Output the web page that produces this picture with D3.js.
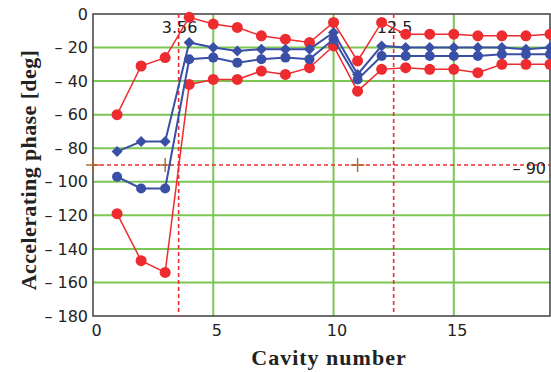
<!DOCTYPE html>
<html>
<head>
<meta charset="utf-8">
<script src="https://cdn.jsdelivr.net/npm/d3@7"></script>
<style>
  html, body { margin: 0; padding: 0; background: #fff; }
  svg { display: block; }
</style>
</head>
<body>
<svg id="chart" width="551" height="372"></svg>
<script>
// Cavity numbers along the linac section
const cavities = [1, 2, 3, 4, 5, 6, 7, 8, 9, 10, 11, 12, 13, 14, 15, 16, 17, 18, 19];

// Accelerating phase limits [deg]
const redUpper  = [-60, -31, -26, -2, -6, -8, -13, -15, -17, -5, -28, -5, -12, -12, -12, -13, -13, -13, -12];
const blueUpper = [-82, -76, -76, -17, -20, -22, -21, -21, -21, -11, -36, -19, -20, -20, -20, -20, -20, -21, -20];
const blueLower = [-97, -104, -104, -27, -26, -29, -27, -26, -27, -15, -39, -25, -25, -25, -25, -25, -24, -24, -24];
const redLower  = [-119, -147, -154, -42, -39, -39, -34, -36, -32, -19, -46, -33, -32, -33, -33, -35, -30, -30, -30];

// Axis ticks
const xTicks = [0, 5, 10, 15];
const yTicks = [0, -20, -40, -60, -80, -100, -120, -140, -160, -180];

// Reference markers: transition cavity, end of section, reference phase
const markX = [3.56, 12.5];
const markY = -90;
const crossPoints = [[0, -90], [3, -90], [11, -90]];

const svg = d3.select("#chart");
const margin = { left: 93, top: 14, right: 1, bottom: 56 };
const W = 551, H = 372;

const x = d3.scaleLinear().domain([0, 19]).range([margin.left, W - margin.right]);
const y = d3.scaleLinear().domain([-180, 0]).range([H - margin.bottom, margin.top]);

const green = "#7cc653", red = "#ee2b2f", blue = "#3a4fa6", frame = "#4a4a4a";
const tickFont = "'DejaVu Sans', sans-serif";
const titleFont = "'Liberation Serif', 'Times New Roman', serif";

// grid
const grid = svg.append("g");
grid.selectAll("line.h").data(yTicks.filter(d => d !== 0 && d !== -180)).join("line")
  .attr("x1", x(0)).attr("x2", x(19)).attr("y1", d => y(d)).attr("y2", d => y(d))
  .attr("stroke", green).attr("stroke-width", 2);
grid.selectAll("line.v").data(xTicks.filter(d => d !== 0)).join("line")
  .attr("x1", d => x(d)).attr("x2", d => x(d)).attr("y1", y(0)).attr("y2", y(-180))
  .attr("stroke", green).attr("stroke-width", 2);

// frame
svg.append("rect")
  .attr("x", x(0)).attr("y", y(0)).attr("width", x(19) - x(0)).attr("height", y(-180) - y(0))
  .attr("fill", "none").attr("stroke", frame).attr("stroke-width", 1.6);

// axes (labels only; the frame draws the lines)
const fmt = d => d < 0 ? "\u2013 " + Math.abs(d) : String(d);
const yAxis = d3.axisLeft(y).tickValues(yTicks).tickFormat(fmt).tickSize(0).tickPadding(5);
const gy = svg.append("g").attr("transform", `translate(${x(0)},0)`).call(yAxis);
gy.select(".domain").remove();
gy.selectAll("text").attr("font-family", tickFont).attr("font-size", 16).attr("fill", "#222");

const xAxis = d3.axisBottom(x).tickValues(xTicks).tickFormat(d3.format("d")).tickSize(0).tickPadding(9);
const gx = svg.append("g").attr("transform", `translate(0,${y(-180)})`).call(xAxis);
gx.select(".domain").remove();
gx.selectAll("text").attr("font-family", tickFont).attr("font-size", 16).attr("fill", "#222")
  .attr("dx", 3);

// axis titles
svg.append("text")
  .attr("x", 329).attr("y", 365).attr("text-anchor", "middle")
  .attr("font-family", titleFont).attr("letter-spacing", 1)
  .attr("font-weight", "bold").attr("font-size", 22).attr("fill", "#222")
  .text("Cavity number");
svg.append("text")
  .attr("transform", "translate(36,170) rotate(-90)").attr("text-anchor", "middle")
  .attr("font-family", titleFont).attr("letter-spacing", 0.4)
  .attr("font-weight", "bold").attr("font-size", 22).attr("fill", "#222")
  .text("Accelerating phase [deg]");

// dashed reference lines
const refs = svg.append("g").attr("stroke", red).attr("stroke-width", 1.6)
  .attr("stroke-dasharray", "4,3");
refs.selectAll("line.v").data(markX).join("line")
  .attr("x1", d => x(d)).attr("x2", d => x(d)).attr("y1", y(0)).attr("y2", y(-180));
refs.append("line")
  .attr("x1", x(0)).attr("x2", x(19)).attr("y1", y(markY)).attr("y2", y(markY));

// cross markers on the reference phase
const crosses = svg.append("g").attr("stroke", "#a8672c").attr("stroke-width", 1.4);
crossPoints.forEach(([cx, cy]) => {
  crosses.append("line").attr("x1", x(cx) - 7).attr("x2", x(cx) + 7).attr("y1", y(cy)).attr("y2", y(cy));
  crosses.append("line").attr("x1", x(cx)).attr("x2", x(cx)).attr("y1", y(cy) - 7).attr("y2", y(cy) + 7);
});

// marker labels
const lab = svg.append("g").attr("font-family", tickFont).attr("font-size", 16).attr("fill", "#222");
markX.forEach(v => {
  lab.append("text").attr("x", x(v) + 1).attr("y", 33).attr("text-anchor", "middle").text(String(v));
});
lab.append("text").attr("x", 546).attr("y", 174).attr("text-anchor", "end").text("\u2013 90");

// data series
const clip = svg.append("clipPath").attr("id", "plotclip").append("rect")
  .attr("x", x(0)).attr("y", 0).attr("width", x(19) - x(0) + 1).attr("height", H);
const plot = svg.append("g").attr("clip-path", "url(#plotclip)");

const line = d3.line().x((d, i) => x(cavities[i])).y(d => y(d));
const series = [
  { values: redUpper, color: red, shape: "circle", r: 5.5, w: 1.5 },
  { values: redLower, color: red, shape: "circle", r: 5.5, w: 1.5 },
  { values: blueUpper, color: blue, shape: "diamond", r: 5.5, w: 2 },
  { values: blueLower, color: blue, shape: "circle", r: 5, w: 2 }
];
series.forEach(s => {
  plot.append("path").datum(s.values).attr("d", line)
    .attr("fill", "none").attr("stroke", s.color).attr("stroke-width", s.w);
  if (s.shape === "circle") {
    plot.selectAll(null).data(s.values).join("circle")
      .attr("cx", (d, i) => x(cavities[i])).attr("cy", d => y(d)).attr("r", s.r)
      .attr("fill", s.color);
  } else {
    plot.selectAll(null).data(s.values).join("path")
      .attr("transform", (d, i) => `translate(${x(cavities[i])},${y(d)})`)
      .attr("d", `M0,${-s.r}L${s.r},0L0,${s.r}L${-s.r},0Z`)
      .attr("fill", s.color);
  }
});
</script>
</body>
</html>
